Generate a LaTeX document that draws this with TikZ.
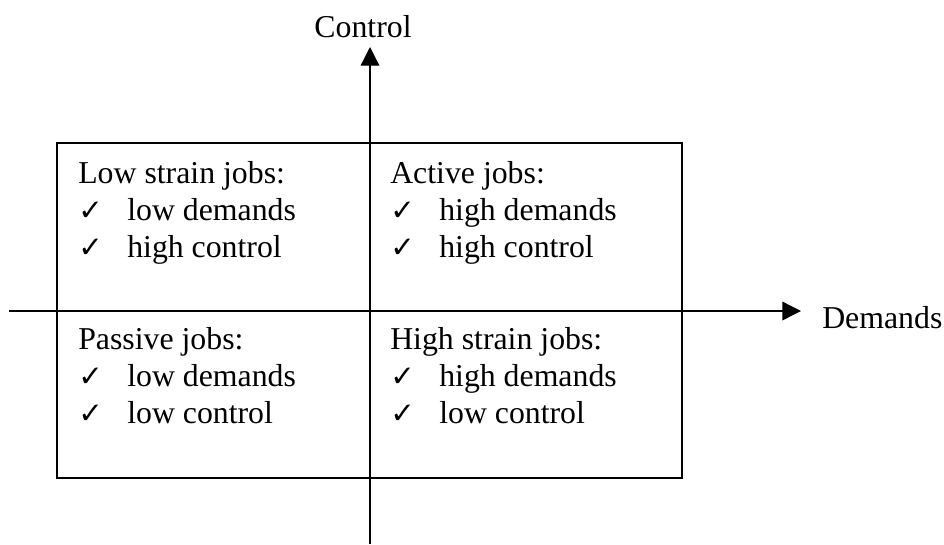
\documentclass[tikz,border=0pt]{standalone}
\usepackage{fontspec}
\setmainfont{Liberation Serif}
\newfontfamily\chkfont{DejaVu Sans}
\usetikzlibrary{arrows.meta}

\newcommand{\jobfont}{\fontsize{23.85pt}{27.75pt}\selectfont}
\newcommand{\chk}{\makebox[36.75pt][l]{\chkfont\bfseries\fontsize{22pt}{22pt}\selectfont ✓}}

\begin{document}
\begin{tikzpicture}[%
    x=0.75pt,
    y=-0.75pt,
    axis/.style={line width=1pt, -{Triangle[length=14pt, width=14pt]}},
    quad/.style={anchor=base west, align=left, inner sep=0pt, font=\jobfont},
    lbl/.style={inner sep=0pt, font=\jobfont}
  ]
    \useasboundingbox (0,0) rectangle (944,544);

    \draw[line width=1.1pt] (57,143) rectangle (682,478);

    \coordinate (xstart) at (9,311);
    \coordinate (xend)   at (801,311);
    \coordinate (ystart) at (370,544);
    \coordinate (yend)   at (370,47);

    \draw[axis] (xstart) -- (xend);
    \draw[axis] (ystart) -- (yend);

    \node[lbl, anchor=base] (control) at (363,37) {Control};
    \node[lbl, anchor=base west] (demands) at (822,328) {Demands};

    % base anchor sits on the last line
    \node[quad] (lowstrain)  at (78,257)  {Low strain jobs:\\ \chk low demands\\ \chk high control};
    \node[quad] (active)     at (390,257) {Active jobs:\\ \chk high demands\\ \chk high control};
    \node[quad] (passive)    at (78,423)  {Passive jobs:\\ \chk low demands\\ \chk low control};
    \node[quad] (highstrain) at (390,423) {High strain jobs:\\ \chk high demands\\ \chk low control};
  \end{tikzpicture}
\end{document}
